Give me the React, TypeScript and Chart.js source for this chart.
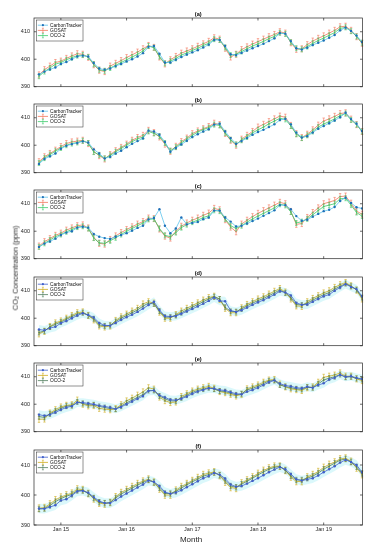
import React, { useEffect, useRef } from "react";
import { Chart, registerables } from "chart.js";
Chart.register(...registerables);

// ---------- data ----------
// month index relative to Jan 2015 (Sep 2014 = -4 ... Aug 2019 = 55)
const START_MONTH = -4;
const X_MIN = -4.91;
const X_MAX = 55.09;
const X_TICKS = [0, 12, 24, 36, 48];
const X_TICK_LABELS = ["Jan 15", "Jan 16", "Jan 17", "Jan 18", "Jan 19"];
const Y_MIN = 390;
const Y_MAX = 415;
const Y_TICKS = [390, 400, 410];
const PANEL_TITLES = ["(a)", "(b)", "(c)", "(d)", "(e)", "(f)"];
const SERIES_NAMES = ["CarbonTracker", "GOSAT", "OCO-2"];
const GOSAT_ERR = 1.1;
const OCO2_ERR = 0.9;
const BAND_HALF = 1.6;

// Panel (a)
const CT_A = [394.5, 395.5, 396.3, 397.0,
  398.3, 399.0, 400.0, 401.0, 401.3, 401.0, 398.6, 396.6, 396.2, 396.6, 397.5, 398.3,
  399.2, 400.0, 401.0, 402.2, 404.5, 404.8, 402.0, 398.8, 398.8, 399.8, 400.8, 401.7,
  402.5, 403.3, 404.3, 405.3, 407.0, 407.0, 404.8, 401.8, 401.5, 402.3, 403.2, 404.0,
  404.8, 405.6, 406.6, 407.6, 409.5, 409.3, 406.6, 404.0, 403.5, 404.2, 405.2, 406.0,
  406.8, 407.8, 408.8, 410.5, 411.5, 410.3, 408.6, 406.3];
const GOSAT_A = [394.3, 396.2, 397.5, 398.8,
  399.3, 400.3, 401.2, 402.0, 401.8, 400.7, 398.0, 396.0, 395.5, 397.5, 398.5, 399.5,
  400.6, 401.6, 402.6, 403.8, 405.0, 404.3, 400.8, 398.3, 399.8, 401.0, 402.2, 403.0,
  403.8, 404.7, 405.6, 406.5, 407.8, 407.3, 404.0, 400.8, 401.8, 403.5, 404.5, 405.5,
  406.4, 407.3, 408.2, 409.0, 410.0, 409.5, 406.0, 403.6, 403.8, 405.3, 406.6, 407.6,
  408.5, 409.5, 410.5, 411.8, 412.0, 410.5, 408.2, 405.8];
const OCO2_A = [393.8, 395.5, 396.8, 398.2,
  398.8, 399.8, 400.6, 401.3, 401.5, 400.8, 398.2, 396.2, 395.8, 396.8, 397.8, 398.8,
  399.8, 400.8, 401.8, 403.0, 404.8, 404.2, 401.0, 398.5, 399.3, 400.3, 401.5, 402.3,
  403.2, 404.0, 405.0, 405.8, 407.3, 407.0, 404.3, 401.5, 401.8, 402.8, 403.8, 404.8,
  405.6, 406.5, 407.5, 408.3, 409.6, 409.2, 406.2, 404.0, 403.6, 404.6, 405.8, 406.8,
  407.7, 408.7, 409.7, 411.2, 411.6, 410.2, 408.3, 406.0];

// Panel (b)
const CT_B = [393.2, 395.0, 396.0, 397.0,
  398.7, 399.8, 400.4, 400.8, 401.4, 401.0, 398.5, 397.0, 395.2, 395.8, 397.0, 398.0,
  399.3, 400.5, 401.5, 402.5, 405.3, 405.0, 403.8, 401.2, 397.6, 399.0, 400.3, 401.6,
  403.0, 404.0, 405.0, 405.8, 407.5, 407.8, 405.0, 402.6, 400.5, 401.5, 402.6, 403.8,
  404.8, 405.6, 406.6, 407.6, 409.2, 409.6, 407.6, 404.6, 402.8, 403.3, 404.6, 406.0,
  407.0, 408.0, 409.0, 410.2, 411.8, 409.5, 407.8, 405.2];
const GOSAT_B = [394.0, 395.8, 397.0, 398.2,
  399.5, 400.6, 401.2, 401.5, 401.8, 400.6, 397.8, 396.2, 395.0, 396.6, 398.0, 399.2,
  400.4, 401.8, 402.8, 403.6, 405.4, 404.6, 403.0, 400.4, 397.8, 399.6, 401.3, 402.6,
  404.2, 405.2, 406.0, 406.8, 408.0, 407.5, 404.3, 401.8, 400.0, 402.2, 403.6, 405.0,
  406.6, 407.6, 408.6, 409.6, 410.6, 410.2, 407.2, 404.2, 402.8, 404.0, 405.6, 407.3,
  408.8, 409.6, 410.5, 411.5, 411.8, 409.5, 407.5, 405.0];
const OCO2_B = [393.5, 395.3, 396.6, 397.8,
  399.0, 400.0, 400.6, 401.0, 401.6, 400.8, 397.5, 396.5, 395.2, 396.3, 397.6, 398.8,
  400.0, 401.3, 402.3, 403.0, 405.0, 404.3, 403.3, 400.8, 398.0, 399.3, 400.8, 402.2,
  403.6, 404.8, 405.7, 406.4, 407.5, 407.2, 404.5, 402.0, 400.3, 401.8, 403.0, 404.5,
  405.6, 406.6, 407.8, 408.8, 409.8, 409.4, 407.0, 404.0, 402.6, 403.6, 405.0, 406.6,
  407.7, 408.6, 409.6, 410.8, 411.5, 409.2, 407.5, 405.0];

// Panel (c)
const CT_C = [394.3, 395.5, 396.3, 397.3,
  398.6, 399.5, 400.0, 401.3, 401.6, 401.3, 399.0, 398.0, 397.5, 397.2, 398.0, 398.6,
  399.3, 400.2, 401.2, 402.0, 404.3, 404.8, 408.0, 402.0, 399.3, 401.0, 405.0, 402.5,
  403.0, 403.4, 404.4, 405.0, 407.5, 407.5, 405.0, 403.5, 401.7, 402.0, 402.8, 403.7,
  404.6, 405.6, 406.6, 407.6, 409.5, 409.5, 408.0, 405.5, 403.8, 404.2, 405.3, 406.3,
  407.3, 407.8, 408.8, 411.0, 412.2, 410.3, 408.7, 408.3];
const GOSAT_C = [394.6, 396.2, 397.3, 398.5,
  399.3, 400.4, 401.2, 402.0, 402.3, 401.2, 397.8, 395.6, 395.3, 397.0, 398.3, 399.5,
  400.6, 401.6, 402.6, 403.5, 404.8, 404.6, 400.8, 398.2, 397.5, 400.0, 401.8, 403.0,
  404.0, 404.8, 405.8, 406.6, 408.3, 407.8, 404.2, 401.5, 399.8, 402.6, 404.0, 405.3,
  406.5, 407.5, 408.5, 409.5, 410.5, 410.0, 407.2, 402.5, 402.8, 405.0, 406.8, 408.5,
  410.0, 410.6, 411.2, 412.6, 412.8, 410.2, 407.3, 406.2];
const OCO2_C = [394.3, 395.6, 396.8, 398.0,
  398.8, 399.8, 400.6, 401.5, 401.8, 401.0, 397.5, 395.8, 395.6, 396.5, 397.6, 398.8,
  400.0, 401.0, 402.0, 403.0, 404.3, 404.5, 401.0, 398.5, 398.0, 399.5, 401.3, 402.4,
  403.3, 404.0, 405.0, 405.6, 407.6, 407.3, 404.5, 402.0, 401.0, 402.0, 403.3, 404.5,
  405.5, 406.5, 407.5, 408.5, 409.8, 409.4, 407.0, 403.0, 403.5, 404.5, 406.0, 407.5,
  409.0, 409.5, 410.0, 411.8, 412.0, 409.5, 406.8, 405.5];

// Panel (d)
const CT_D = [395.9, 395.6, 396.4, 396.9,
  398.2, 399.0, 400.0, 401.0, 401.8, 401.2, 400.3, 398.3, 397.4, 397.3, 398.3, 399.4,
  400.4, 401.3, 402.3, 403.5, 404.8, 406.0, 403.0, 400.8, 400.6, 400.8, 401.6, 402.5,
  403.4, 404.3, 405.3, 406.3, 407.5, 406.3, 406.2, 402.8, 402.3, 402.9, 403.9, 404.9,
  405.8, 406.6, 407.6, 408.6, 409.8, 409.4, 408.3, 405.6, 404.9, 405.0, 406.0, 407.0,
  408.0, 408.6, 410.0, 411.2, 412.4, 411.4, 410.6, 408.0];
const GOSAT_D = [394.3, 395.2, 397.0, 398.3,
  399.0, 400.0, 401.0, 402.0, 402.3, 401.0, 399.4, 397.2, 396.8, 397.2, 399.2, 400.5,
  401.5, 402.6, 403.6, 405.2, 406.0, 405.5, 402.2, 400.0, 400.0, 401.3, 402.6, 403.6,
  404.6, 405.6, 406.6, 407.5, 408.0, 406.8, 403.6, 402.0, 402.0, 403.8, 405.0, 406.0,
  407.0, 407.8, 408.8, 409.8, 410.8, 409.5, 407.0, 404.5, 404.3, 406.0, 407.2, 408.2,
  409.2, 410.0, 411.2, 412.2, 413.0, 411.8, 410.2, 407.0];
const OCO2_D = [394.8, 395.4, 396.8, 397.8,
  398.6, 399.6, 400.6, 401.5, 402.0, 401.0, 399.8, 397.6, 397.2, 397.4, 398.8, 400.0,
  401.0, 402.0, 403.0, 404.4, 405.5, 405.2, 402.6, 400.4, 400.4, 401.0, 402.0, 403.0,
  404.0, 405.0, 406.0, 407.0, 407.8, 407.0, 404.0, 402.5, 402.4, 403.4, 404.5, 405.5,
  406.4, 407.2, 408.2, 409.2, 410.3, 409.2, 407.5, 405.0, 404.8, 405.5, 406.6, 407.6,
  408.6, 409.3, 410.6, 411.6, 412.6, 411.6, 410.4, 407.5];

// Panel (e)
const CT_E = [396.2, 395.8, 396.2, 397.0,
  398.0, 398.8, 399.3, 400.6, 400.6, 400.3, 400.0, 399.5, 399.2, 398.8, 398.3, 399.0,
  400.0, 401.0, 402.0, 403.0, 404.8, 405.0, 403.3, 402.5, 401.6, 401.5, 402.0, 402.8,
  403.8, 404.6, 405.2, 405.8, 405.7, 405.2, 405.0, 404.4, 403.8, 403.6, 404.6, 405.2,
  406.0, 407.0, 408.0, 408.7, 407.5, 406.8, 406.5, 406.0, 405.8, 406.4, 406.0, 407.0,
  407.6, 409.0, 409.6, 410.7, 410.0, 410.2, 409.6, 409.2];
const GOSAT_E = [394.5, 394.6, 396.8, 398.0,
  399.0, 399.6, 399.8, 401.5, 400.0, 399.4, 399.5, 398.5, 398.2, 398.0, 398.4, 399.8,
  401.2, 402.2, 403.3, 404.5, 406.0, 405.5, 402.6, 401.3, 400.6, 400.8, 402.8, 403.8,
  404.8, 405.5, 406.0, 406.5, 405.8, 404.6, 404.2, 403.6, 403.0, 403.6, 405.6, 406.3,
  407.0, 408.0, 408.8, 409.0, 407.3, 406.3, 405.6, 405.3, 405.0, 406.0, 406.3, 408.0,
  409.8, 410.2, 410.6, 411.4, 410.2, 410.2, 409.2, 408.6];
const OCO2_E = [395.5, 395.2, 396.5, 397.5,
  398.5, 399.3, 399.5, 400.8, 400.3, 399.8, 399.8, 399.2, 398.8, 398.4, 398.2, 399.3,
  400.5, 401.5, 402.5, 403.5, 405.0, 405.0, 403.0, 402.0, 401.2, 401.2, 402.3, 403.3,
  404.3, 405.0, 405.5, 406.0, 405.5, 404.8, 404.6, 404.0, 403.4, 403.8, 405.2, 405.8,
  406.5, 407.5, 408.5, 408.6, 407.0, 406.4, 406.0, 405.6, 405.4, 406.2, 406.0, 407.4,
  408.8, 409.5, 410.0, 410.8, 409.8, 410.0, 409.4, 409.0];

// Panel (f)
const CT_F = [395.5, 395.4, 396.0, 396.6,
  398.2, 398.6, 399.8, 401.2, 401.4, 400.8, 399.3, 398.0, 397.3, 397.3, 398.3, 399.5,
  400.5, 401.5, 402.5, 403.5, 404.8, 404.4, 403.0, 401.0, 400.4, 400.8, 401.6, 402.6,
  403.6, 404.6, 405.6, 406.3, 407.3, 406.8, 405.5, 403.5, 402.8, 403.0, 403.8, 404.7,
  405.6, 406.6, 407.6, 408.5, 409.3, 408.6, 407.0, 405.3, 404.8, 405.2, 405.6, 406.5,
  407.6, 408.6, 409.6, 410.8, 411.7, 411.0, 410.0, 407.6];
const GOSAT_F = [395.6, 395.8, 397.0, 398.4,
  399.3, 400.0, 400.6, 402.0, 401.8, 400.5, 398.7, 397.3, 397.0, 397.5, 399.4, 400.8,
  401.8, 402.8, 403.8, 404.6, 405.3, 404.3, 402.0, 400.0, 400.0, 401.6, 402.8, 403.8,
  404.8, 405.8, 406.8, 407.3, 407.7, 406.5, 404.3, 402.5, 402.2, 404.0, 405.0, 406.0,
  407.2, 408.2, 409.0, 409.6, 409.6, 408.2, 406.0, 404.5, 404.5, 406.0, 406.8, 407.8,
  409.2, 410.2, 411.0, 412.0, 412.3, 411.2, 409.0, 406.8];
const OCO2_F = [395.3, 395.5, 396.5, 397.8,
  398.8, 399.6, 400.2, 401.5, 401.5, 400.5, 399.0, 397.6, 397.3, 397.5, 399.0, 400.3,
  401.3, 402.3, 403.3, 404.2, 405.0, 404.2, 402.4, 400.5, 400.5, 401.2, 402.3, 403.4,
  404.4, 405.3, 406.3, 406.8, 407.5, 406.6, 404.8, 403.0, 402.6, 403.6, 404.6, 405.6,
  406.7, 407.7, 408.6, 409.2, 409.5, 408.2, 406.4, 405.0, 405.0, 405.6, 406.3, 407.3,
  408.6, 409.6, 410.6, 411.6, 412.0, 411.0, 409.4, 407.2];

// ---------- styling ----------
const FONT = "Arial, 'Liberation Sans', sans-serif";
const AXIS_COLOR = "#262626";
const PALETTE_1 = { ctLine: "#5cc3ec", ctPoint: "#1f6fb8", gosat: "#f3765c", oco: "#3ccb6c", band: null as string | null };
const PALETTE_2 = { ctLine: "#3f5fcc", ctPoint: "#3f5fcc", gosat: "#cfac1e", oco: "#4f7d5c", band: "rgba(175,240,246,0.45)" };

const PANELS = [
  { title: PANEL_TITLES[0], ct: CT_A, gosat: GOSAT_A, oco: OCO2_A, pal: PALETTE_1 },
  { title: PANEL_TITLES[1], ct: CT_B, gosat: GOSAT_B, oco: OCO2_B, pal: PALETTE_1 },
  { title: PANEL_TITLES[2], ct: CT_C, gosat: GOSAT_C, oco: OCO2_C, pal: PALETTE_1 },
  { title: PANEL_TITLES[3], ct: CT_D, gosat: GOSAT_D, oco: OCO2_D, pal: PALETTE_2 },
  { title: PANEL_TITLES[4], ct: CT_E, gosat: GOSAT_E, oco: OCO2_E, pal: PALETTE_2 },
  { title: PANEL_TITLES[5], ct: CT_F, gosat: GOSAT_F, oco: OCO2_F, pal: PALETTE_2 },
];
const PLOT_TOPS = [18, 104, 190, 277, 363, 450];
const PLOT_H = 75;
const TOP_PAD = 10;

const toPts = (arr: number[]) => arr.map((v, i) => ({ x: i + START_MONTH, y: v }));

const errorBarPlugin = {
  id: "errorBars",
  afterDatasetDraw(chart: any, args: any) {
    const ds = chart.data.datasets[args.index];
    if (!ds.errorBar) return;
    const ys = chart.scales.y;
    const ctx = chart.ctx;
    ctx.save();
    ctx.strokeStyle = ds.borderColor;
    ctx.lineWidth = 0.6;
    args.meta.data.forEach((pt: any, i: number) => {
      const v = ds.data[i].y;
      const x = pt.x;
      const y1 = ys.getPixelForValue(v - ds.errorBar);
      const y2 = ys.getPixelForValue(v + ds.errorBar);
      ctx.beginPath();
      ctx.moveTo(x, y1); ctx.lineTo(x, y2);
      ctx.moveTo(x - 1.2, y1); ctx.lineTo(x + 1.2, y1);
      ctx.moveTo(x - 1.2, y2); ctx.lineTo(x + 1.2, y2);
      ctx.stroke();
    });
    ctx.restore();
  },
};

const framePlugin = {
  id: "frame",
  afterDatasetsDraw(chart: any, _a: any, opts: any) {
    const { ctx, chartArea: a, scales } = chart;
    ctx.save();
    ctx.strokeStyle = AXIS_COLOR;
    ctx.lineWidth = 0.7;
    ctx.strokeRect(a.left, a.top, a.right - a.left, a.bottom - a.top);
    ctx.beginPath();
    X_TICKS.forEach((t) => {
      const x = scales.x.getPixelForValue(t);
      ctx.moveTo(x, a.bottom); ctx.lineTo(x, a.bottom - 2.5);
      ctx.moveTo(x, a.top); ctx.lineTo(x, a.top + 2.5);
    });
    Y_TICKS.forEach((t) => {
      const y = scales.y.getPixelForValue(t);
      ctx.moveTo(a.left, y); ctx.lineTo(a.left + 2.5, y);
      ctx.moveTo(a.right, y); ctx.lineTo(a.right - 2.5, y);
    });
    ctx.stroke();
    // title
    ctx.fillStyle = "#000";
    ctx.font = `bold 5.6px ${FONT}`;
    ctx.textAlign = "center";
    ctx.textBaseline = "middle";
    ctx.fillText(opts.title, (a.left + a.right) / 2, a.top - 4);
    ctx.restore();
  },
};

const legendPlugin = {
  id: "panelLegend",
  afterDraw(chart: any, _a: any, opts: any) {
    const { ctx, chartArea: a } = chart;
    const pal = opts.pal;
    const bx = a.left + 2.5, by = a.top + 2, bw = 46.5, bh = 21;
    ctx.save();
    ctx.fillStyle = "#fff";
    ctx.fillRect(bx, by, bw, bh);
    ctx.strokeStyle = AXIS_COLOR;
    ctx.lineWidth = 0.5;
    ctx.strokeRect(bx, by, bw, bh);
    const colors = [pal.ctLine, pal.gosat, pal.oco];
    SERIES_NAMES.forEach((name, k) => {
      const y = by + 5.2 + k * 5.2;
      const x0 = bx + 1.3, x1 = bx + 11.5, xm = (x0 + x1) / 2;
      ctx.strokeStyle = colors[k];
      ctx.lineWidth = 0.8;
      ctx.beginPath(); ctx.moveTo(x0, y); ctx.lineTo(x1, y); ctx.stroke();
      if (k === 0) {
        ctx.fillStyle = pal.ctPoint;
        ctx.beginPath(); ctx.arc(xm, y, 1.1, 0, Math.PI * 2); ctx.fill();
      } else {
        ctx.lineWidth = 0.6;
        ctx.beginPath();
        ctx.moveTo(xm, y - 2.2); ctx.lineTo(xm, y + 2.2);
        ctx.moveTo(xm - 1, y - 2.2); ctx.lineTo(xm + 1, y - 2.2);
        ctx.moveTo(xm - 1, y + 2.2); ctx.lineTo(xm + 1, y + 2.2);
        ctx.stroke();
      }
      ctx.fillStyle = "#111";
      ctx.font = `4.8px ${FONT}`;
      ctx.textAlign = "left";
      ctx.textBaseline = "middle";
      ctx.fillText(name, bx + 13.5, y + 0.2);
    });
    ctx.restore();
  },
};

function Panel({ idx }: { idx: number }) {
  const ref = useRef<HTMLCanvasElement>(null);
  const p = PANELS[idx];
  const showX = idx === PANELS.length - 1;
  const bottomH = showX ? 12 : 1;
  const H = TOP_PAD + PLOT_H + bottomH;

  useEffect(() => {
    const canvas = ref.current!;
    const pal = p.pal;
    const datasets: any[] = [];
    if (pal.band) {
      datasets.push({
        data: toPts(p.ct.map((v) => v - BAND_HALF)),
        borderWidth: 0, pointRadius: 0, fill: false, order: 10, borderColor: "transparent",
      });
      datasets.push({
        data: toPts(p.ct.map((v) => v + BAND_HALF)),
        borderWidth: 0, pointRadius: 0, fill: "-1", backgroundColor: pal.band, order: 10, borderColor: "transparent",
      });
    }
    datasets.push({
      label: SERIES_NAMES[1], data: toPts(p.gosat), borderColor: pal.gosat, backgroundColor: pal.gosat,
      borderWidth: 0.8, pointRadius: 0.7, pointBorderWidth: 0, order: 3, errorBar: GOSAT_ERR,
    });
    datasets.push({
      label: SERIES_NAMES[2], data: toPts(p.oco), borderColor: pal.oco, backgroundColor: pal.oco,
      borderWidth: 0.8, pointRadius: 0.7, pointBorderWidth: 0, order: 2, errorBar: OCO2_ERR,
    });
    datasets.push({
      label: SERIES_NAMES[0], data: toPts(p.ct), borderColor: pal.ctLine, backgroundColor: pal.ctPoint,
      pointBackgroundColor: pal.ctPoint, borderWidth: 0.8, pointRadius: 1.2, pointBorderWidth: 0, order: 1,
    });

    const chart = new Chart(canvas, {
      type: "line",
      data: { datasets },
      plugins: [errorBarPlugin, framePlugin, legendPlugin],
      options: {
        animation: false,
        responsive: false,
        devicePixelRatio: 1,
        layout: { padding: { top: TOP_PAD, right: 15.5, left: 0, bottom: 0 } },
        plugins: {
          legend: { display: false },
          tooltip: { enabled: false },
          frame: { title: p.title },
          panelLegend: { pal },
        } as any,
        scales: {
          x: {
            type: "linear",
            min: X_MIN,
            max: X_MAX,
            grid: { display: false, drawTicks: false, tickLength: 0 },
            border: { display: false },
            afterBuildTicks: (s: any) => { s.ticks = X_TICKS.map((v) => ({ value: v })); },
            afterFit: (s: any) => { s.height = bottomH; },
            ticks: {
              display: showX,
              padding: 1.5,
              maxRotation: 0,
              autoSkip: false,
              color: AXIS_COLOR,
              font: { size: 5.5, family: FONT },
              callback: (v: any) => X_TICK_LABELS[X_TICKS.indexOf(Number(v))] ?? "",
            },
          },
          y: {
            type: "linear",
            min: Y_MIN,
            max: Y_MAX,
            grid: { display: false, drawTicks: false, tickLength: 0 },
            border: { display: false },
            afterBuildTicks: (s: any) => { s.ticks = Y_TICKS.map((v) => ({ value: v })); },
            afterFit: (s: any) => { s.width = 34; },
            ticks: {
              padding: 4,
              color: AXIS_COLOR,
              font: { size: 5.5, family: FONT },
            },
          },
        },
      },
    });
    return () => chart.destroy();
  }, []);

  return (
    <canvas
      ref={ref}
      width={378}
      height={H}
      style={{ position: "absolute", left: 0, top: PLOT_TOPS[idx] - TOP_PAD, width: 378, height: H }}
    />
  );
}

export default function App() {
  useEffect(() => {
    document.body.style.margin = "0";
  }, []);
  return (
    <div style={{ position: "relative", width: 378, height: 550, background: "#fff", overflow: "hidden" }}>
      {PANELS.map((_, i) => (
        <Panel key={i} idx={i} />
      ))}
      <div
        style={{
          position: "absolute", left: 16, top: 268, transform: "translate(-50%, -50%) rotate(-90deg)",
          whiteSpace: "nowrap", fontFamily: FONT, fontSize: 7.5, color: AXIS_COLOR, lineHeight: 1,
        }}
      >
        CO<sub style={{ fontSize: 5.5, verticalAlign: "-1px" }}>2</sub> Concentration (ppm)
      </div>
      <div
        style={{
          position: "absolute", left: 191, top: 540, transform: "translate(-50%, -50%)",
          whiteSpace: "nowrap", fontFamily: FONT, fontSize: 8, color: AXIS_COLOR, lineHeight: 1,
        }}
      >
        Month
      </div>
    </div>
  );
}
